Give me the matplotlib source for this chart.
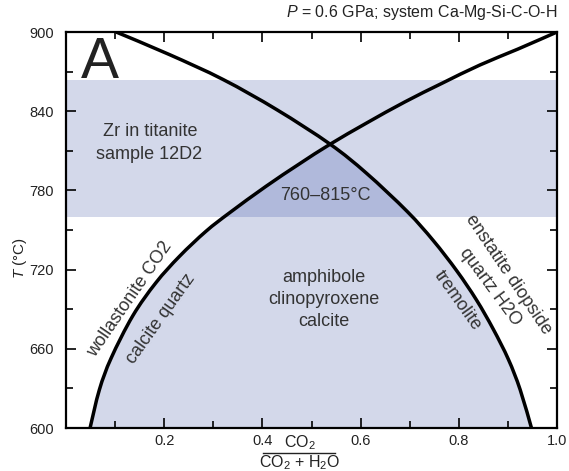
import matplotlib
matplotlib.use("Agg")
import matplotlib.pyplot as plt
from matplotlib.patches import PathPatch, Rectangle
from matplotlib.path import Path
from matplotlib.lines import Line2D
from matplotlib.ticker import FixedLocator

plt.rcParams['font.family'] = ['Liberation Sans', 'DejaVu Sans']
plt.rcParams['mathtext.fontset'] = 'custom'
plt.rcParams['mathtext.rm'] = 'Liberation Sans'
plt.rcParams['mathtext.it'] = 'Liberation Sans:italic'

# calcite + quartz = wollastonite + CO2  (X_CO2, T in °C)
wo_x = [0.049, 0.068, 0.092, 0.136, 0.183, 0.231, 0.285, 0.333, 0.407, 0.475,
        0.538, 0.612, 0.690, 0.765, 0.843, 0.920, 1.000]
wo_t = [600, 629, 653, 685, 710, 730, 749, 763, 783, 800,
        815, 831, 847, 861, 875, 887, 900]

# tremolite = enstatite + diopside + quartz + H2O
tr_x = [0.102, 0.210, 0.320, 0.430, 0.538, 0.612, 0.695, 0.748, 0.796, 0.836,
        0.870, 0.901, 0.925, 0.948]
tr_t = [900, 883, 864, 841, 815, 793, 764, 742, 719, 697,
        675, 652, 629, 600]

# Zr-in-titanite temperature window
zr_low, zr_high = 760, 864
cross_x = 0.538

x_major = [0.2, 0.4, 0.6, 0.8, 1.0]
x_minor = [0.1, 0.3, 0.5, 0.7, 0.9]
y_major = [600, 660, 720, 780, 840, 900]
y_minor = [630, 690, 750, 810, 870]

light = '#d3d8ea'
dark = '#b0b9db'
txt = '#333333'
ink = '#222222'


def smooth_segments(xs, ys):
    """Catmull-Rom spline through the points, as cubic Bezier segments."""
    pts = list(zip(xs, ys))
    n = len(pts)
    segs = []
    for i in range(n - 1):
        p0, p1 = pts[max(i - 1, 0)], pts[i]
        p2, p3 = pts[i + 1], pts[min(i + 2, n - 1)]
        c1 = (p1[0] + (p2[0] - p0[0]) / 6, p1[1] + (p2[1] - p0[1]) / 6)
        c2 = (p2[0] - (p3[0] - p1[0]) / 6, p2[1] - (p3[1] - p1[1]) / 6)
        segs.append([c1, c2, p2])
    return segs


def curve_path(start, segs):
    verts = [start] + [v for s in segs for v in s]
    codes = [Path.MOVETO] + [Path.CURVE4] * (3 * len(segs))
    return Path(verts, codes)


fig = plt.figure(figsize=(5.69, 4.71), dpi=100)
ax = fig.add_axes([66 / 569, 43 / 471, 491 / 569, 396 / 471])
ax.set_xlim(0, 1)
ax.set_ylim(600, 900)

# titanite band
ax.axhspan(zr_low, zr_high, color=light, lw=0, zorder=1)

wo_segs = smooth_segments(wo_x, wo_t)
tr_segs = smooth_segments(tr_x, tr_t)
i_wo = wo_x.index(cross_x)
i_tr = tr_x.index(cross_x)

# amphibole + clinopyroxene + calcite field, bounded by the two reactions
field_segs = wo_segs[:i_wo] + tr_segs[i_tr:]
verts = [(wo_x[0], wo_t[0])] + [v for s in field_segs for v in s]
codes = [Path.MOVETO] + [Path.CURVE4] * (3 * len(field_segs))
verts += [(tr_x[-1], tr_t[-1]), (wo_x[0], wo_t[0])]
codes += [Path.LINETO, Path.CLOSEPOLY]
field_path = Path(verts, codes)
ax.add_patch(PathPatch(field_path, facecolor=light, edgecolor='none', zorder=1))
overlap = PathPatch(field_path, facecolor=dark, edgecolor='none', zorder=2)
ax.add_patch(overlap)
overlap.set_clip_path(Rectangle((0, zr_low), 1, zr_high - zr_low, transform=ax.transData))

for xs, ts, segs in [(wo_x, wo_t, wo_segs), (tr_x, tr_t, tr_segs)]:
    ax.add_patch(PathPatch(curve_path((xs[0], ts[0]), segs), facecolor='none',
                           edgecolor='black', lw=2.5, capstyle='butt', zorder=3))

ax.xaxis.set_major_locator(FixedLocator(x_major))
ax.xaxis.set_minor_locator(FixedLocator(x_minor))
ax.yaxis.set_major_locator(FixedLocator(y_major))
ax.yaxis.set_minor_locator(FixedLocator(y_minor))
ax.set_xticklabels([f'{v:.1f}' for v in x_major])
ax.tick_params(which='both', direction='in', top=True, right=True, width=1.2,
               labelsize=10.5, labelcolor=ink)
ax.tick_params(which='major', length=7.5)
ax.tick_params(which='minor', length=5)
ax.tick_params(axis='y', pad=9)
ax.tick_params(axis='x', pad=4)
for s in ax.spines.values():
    s.set_linewidth(1.6)
    s.set_zorder(5)

# panel letter
ax.text(0.030, 0.884, 'A', transform=ax.transAxes, fontsize=41, color=ink,
        ha='left', va='baseline')


def at_px(x, y):
    """figure pixel position (from top-left) -> figure fraction"""
    return x / 569, 1 - y / 471


for s, (px, py) in [('Zr in titanite', (150, 132)), ('sample 12D2', (149, 155)),
                    ('760–815°C', (325, 196)), ('amphibole', (324, 278)),
                    ('clinopyroxene', (324, 300)), ('calcite', (324, 322))]:
    fx, fy = at_px(px, py)
    fig.text(fx, fy, s, fontsize=13, color=txt, ha='center', va='center')

for s, (px, py), rot in [('wollastonite CO2', (130, 299), 55.5),
                         ('calcite quartz', (161, 319), 54.5),
                         ('enstatite diopside', (508, 275), -56),
                         ('quartz H2O', (490, 287), -53.5),
                         ('tremolite', (458, 301), -54.5)]:
    fx, fy = at_px(px, py)
    fig.text(fx, fy, s, fontsize=13, color=txt, ha='center', va='center',
             rotation=rot, rotation_mode='anchor')

fx, fy = at_px(557, 12)
fig.text(fx, fy, r'$P$ = 0.6 GPa; system Ca-Mg-Si-C-O-H', fontsize=11.5, color=ink,
         ha='right', va='center')

fx, fy = at_px(20, 258)
fig.text(fx, fy, r'$T$ (°C)', fontsize=11, color=ink, rotation=90,
         ha='center', va='center')

# x-axis label as a fraction
fx, fy = at_px(300, 443)
fig.text(fx, fy, r'CO$_2$', fontsize=11.5, color=ink, ha='center', va='center')
fx, fy = at_px(300, 463)
fig.text(fx, fy, r'CO$_2$ + H$_2$O', fontsize=11.5, color=ink, ha='center', va='center')
x0, yl = at_px(263, 453)
x1, _ = at_px(335, 453)
fig.add_artist(Line2D([x0, x1], [yl, yl], color=ink, lw=1.0, transform=fig.transFigure))

fig.savefig('out.png', dpi=100)
